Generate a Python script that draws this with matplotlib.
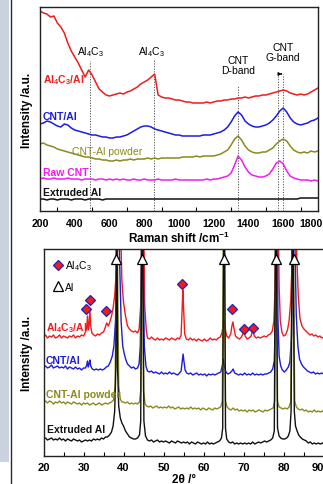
import matplotlib
matplotlib.use('Agg')
import matplotlib.pyplot as plt
from matplotlib.lines import Line2D
from matplotlib.patches import Rectangle
from matplotlib.ticker import MultipleLocator
from matplotlib.transforms import ScaledTranslation
import numpy as np

plt.rcParams['font.family'] = ['Liberation Sans', 'DejaVu Sans']
plt.rcParams['mathtext.fontset'] = 'custom'
plt.rcParams['mathtext.rm'] = 'Liberation Sans'
plt.rcParams['mathtext.bf'] = 'Liberation Sans:bold'
plt.rcParams['mathtext.it'] = 'Liberation Sans:italic'

# ---------------- Raman data (a.u.) ----------------
raman_shift = [200, 220, 240, 260, 280, 300, 320, 340, 360, 380,
               400, 420, 440, 460, 480, 500, 520, 540, 560, 580,
               600, 620, 640, 660, 680, 700, 720, 740, 760, 780,
               800, 820, 840, 860, 880, 900, 920, 940, 960, 980,
               1000, 1020, 1040, 1060, 1080, 1100, 1120, 1140, 1160, 1180,
               1200, 1220, 1240, 1260, 1280, 1300, 1320, 1340, 1360, 1380,
               1400, 1420, 1440, 1460, 1480, 1500, 1520, 1540, 1560, 1580,
               1600, 1620, 1640, 1660, 1680, 1700, 1720, 1740, 1760, 1780,
               1800]
raman_al4c3_al = [200, 198, 197, 194, 195, 188, 184, 178, 168, 160,
                  154, 148, 141, 134, 141, 136, 129, 122, 119, 116,
                  115, 116, 117, 118, 117, 119, 120, 122, 124, 127,
                  129, 131, 134, 137, 116, 114, 113, 113, 112, 111,
                  111, 110, 109, 109, 108, 108, 108, 108, 109, 108,
                  109, 110, 110, 111, 111, 112, 112, 113, 113, 114,
                  113, 114, 115, 115, 116, 116, 117, 118, 119, 120,
                  121, 120, 118, 117, 116, 117, 116, 117, 119, 121,
                  123]
raman_cnt_al = [87, 88, 90, 89, 87, 85, 84, 87, 86, 83,
                81, 80, 79, 78, 77, 76, 76, 75, 74, 74,
                73, 73, 74, 74, 75, 76, 78, 80, 82, 84,
                85, 85, 84, 82, 81, 80, 79, 78, 77, 76,
                76, 75, 75, 75, 75, 75, 75, 76, 76, 76,
                77, 78, 79, 81, 84, 89, 95, 99, 96, 90,
                87, 85, 84, 84, 85, 86, 88, 91, 95, 100,
                103, 99, 93, 89, 87, 86, 87, 88, 90, 91,
                93]
raman_cnt_al_powder = [67, 68, 66, 65, 64, 62, 61, 60, 59, 58,
                       57, 56, 55, 54, 54, 53, 52, 52, 51, 51,
                       50, 50, 51, 50, 51, 51, 52, 51, 52, 52,
                       52, 53, 52, 53, 52, 53, 53, 53, 53, 53,
                       53, 54, 54, 54, 54, 55, 54, 55, 55, 55,
                       55, 56, 57, 59, 61, 66, 72, 75, 71, 65,
                       61, 59, 58, 58, 59, 59, 61, 63, 67, 70,
                       72, 70, 65, 61, 59, 58, 59, 58, 60, 59,
                       60]
raman_raw_cnt = [32, 33, 32, 32, 33, 32, 32, 32, 33, 32,
                 32, 32, 31, 32, 32, 32, 31, 32, 32, 31,
                 32, 31, 32, 31, 32, 31, 31, 32, 31, 31,
                 32, 31, 31, 31, 32, 31, 31, 31, 31, 32,
                 31, 31, 31, 31, 31, 31, 31, 31, 32, 31,
                 32, 32, 33, 34, 35, 38, 46, 55, 51, 44,
                 39, 36, 35, 34, 34, 35, 37, 42, 48, 50,
                 47, 40, 35, 33, 32, 31, 31, 31, 30, 31,
                 30]
raman_extruded_al = [12, 12, 11, 12, 12, 11, 12, 12, 12, 11,
                     12, 12, 12, 11, 12, 12, 12, 12, 11, 12,
                     12, 12, 12, 12, 12, 12, 12, 12, 12, 12,
                     12, 12, 12, 12, 12, 12, 12, 12, 12, 12,
                     12, 12, 12, 12, 12, 12, 12, 12, 12, 12,
                     12, 12, 12, 12, 12, 12, 12, 12, 12, 12,
                     12, 12, 12, 12, 12, 12, 12, 12, 12, 12,
                     12, 12, 12, 12, 12, 13, 13, 13, 13, 13,
                     13]
raman_names = ['Al$_\\mathbf{4}$C$_\\mathbf{3}$/Al', 'CNT/Al', 'CNT-Al powder', 'Raw CNT', 'Extruded Al']
raman_colors = ['#f01c1c', '#1c1ce0', '#8a8a1c', '#f01cf0', '#111111']
raman_label_y = [132, 95, 60, 39, 19]
raman_label_x = [217, 217, 384, 217, 217]
raman_marks = [488, 858, 1341, 1571, 1600]
raman_mark_top = [150, 152, 125, 137, 137]
raman_ticks = [200, 400, 600, 800, 1000, 1200, 1400, 1600, 1800]

# ---------------- XRD data (a.u.) ----------------
xrd_al4c3_al = [(20, 119), (20.5, 121), (21, 118), (21.5, 120), (22, 119), (22.5, 121), (23, 118), (23.5, 119),
                (24, 121), (24.5, 118), (25, 120), (25.5, 119), (26, 118), (26.5, 120), (27, 119), (27.5, 121),
                (28, 118), (28.5, 120), (29, 119), (29.5, 121), (30, 120), (30.5, 124), (30.8, 128), (31.0, 140),
                (31.2, 126), (31.4, 130), (31.6, 146), (31.8, 130), (32.1, 123), (32.6, 121), (33, 120), (33.5, 122),
                (34, 121), (34.5, 123), (35, 124), (35.4, 128), (35.8, 133), (36.2, 130), (36.6, 134), (37, 140),
                (37.4, 148), (37.8, 160), (38.2, 185), (38.6, 240), (38.9, 330), (39.2, 240), (39.6, 175), (40, 154),
                (40.5, 140), (41, 130), (41.5, 127), (42, 125), (42.5, 124), (43, 125), (43.5, 123), (43.9, 127),
                (44.3, 150), (44.6, 260), (44.8, 330), (45.0, 260), (45.3, 150), (45.7, 126), (46, 118), (46.5, 117),
                (47, 119), (47.5, 117), (48, 116), (48.5, 118), (49, 116), (49.5, 117), (50, 116), (50.5, 118),
                (51, 117), (51.5, 116), (52, 118), (52.5, 117), (53, 116), (53.5, 118), (54, 117), (54.4, 121),
                (54.7, 150), (54.85, 166), (55.0, 150), (55.3, 122), (55.7, 117), (56.2, 116), (56.7, 118), (57.2, 116),
                (57.7, 117), (58.2, 115), (58.7, 117), (59.2, 116), (59.7, 115), (60.2, 117), (60.7, 115), (61.2, 116),
                (61.7, 118), (62.2, 116), (62.7, 117), (63.2, 116), (63.7, 118), (64.2, 119), (64.6, 123), (64.9, 130),
                (65.15, 136), (65.4, 128), (65.8, 120), (66.3, 118), (66.8, 122), (67.1, 130), (67.35, 134), (67.6, 128),
                (68, 120), (68.5, 118), (69, 117), (69.5, 119), (69.9, 123), (70.1, 126), (70.4, 120), (70.9, 117),
                (71.4, 118), (71.9, 120), (72.2, 124), (72.4, 126), (72.7, 120), (73.2, 118), (73.7, 119), (74.2, 118),
                (74.7, 119), (75.2, 120), (75.7, 119), (76.2, 121), (76.7, 122), (77.2, 125), (77.6, 135), (77.9, 170),
                (78.2, 260), (78.4, 330), (78.6, 260), (78.9, 170), (79.2, 135), (79.6, 124), (80, 120), (80.5, 121),
                (81, 126), (81.4, 135), (81.8, 155), (82.2, 200), (82.6, 280), (82.8, 330), (83.0, 280), (83.3, 200),
                (83.7, 160), (84.1, 138), (84.6, 130), (85.1, 127), (85.6, 125), (86.1, 123), (86.6, 121), (87.1, 122),
                (87.6, 120), (88.1, 121), (88.6, 119), (89.1, 120), (89.6, 118), (90, 119)]
xrd_cnt_al = [(20, 89), (20.5, 90), (21, 88), (21.5, 89), (22, 91), (22.5, 88), (23, 89), (23.5, 90), (24, 88),
              (24.5, 89), (25, 88), (25.5, 90), (26, 87), (26.5, 89), (27, 88), (27.5, 87), (28, 89), (28.5, 87),
              (29, 88), (29.5, 86), (30, 88), (30.5, 88), (30.8, 91), (31.0, 95), (31.2, 89), (31.4, 92), (31.6, 96),
              (31.8, 90), (32.2, 87), (32.7, 86), (33.2, 87), (33.7, 86), (34.2, 87), (34.7, 86), (35.2, 87),
              (35.7, 89), (36.2, 90), (36.7, 94), (37.2, 100), (37.6, 110), (38.0, 135), (38.4, 200), (38.7, 330),
              (39.0, 200), (39.4, 135), (39.8, 110), (40.2, 102), (40.6, 96), (41, 92), (41.5, 90), (42, 88),
              (42.5, 89), (43, 87), (43.5, 88), (43.9, 92), (44.2, 110), (44.5, 200), (44.7, 330), (44.9, 200),
              (45.2, 110), (45.6, 90), (46, 85), (46.5, 84), (47, 85), (47.5, 83), (48, 84), (48.5, 83), (49, 82),
              (49.5, 84), (50, 82), (50.5, 83), (51, 82), (51.5, 84), (52, 82), (52.5, 83), (53, 82), (53.5, 81),
              (54, 83), (54.4, 85), (54.7, 95), (54.9, 102), (55.1, 95), (55.4, 86), (55.8, 83), (56.3, 82),
              (56.8, 83), (57.3, 81), (57.8, 82), (58.3, 83), (58.8, 81), (59.3, 82), (59.8, 81), (60.3, 82),
              (60.8, 80), (61.3, 82), (61.8, 81), (62.3, 82), (62.8, 81), (63.3, 82), (63.8, 83), (64.3, 84),
              (64.7, 90), (64.95, 97), (65.2, 90), (65.6, 84), (66.1, 82), (66.6, 83), (67.1, 85), (67.4, 87),
              (67.8, 83), (68.3, 82), (68.8, 81), (69.3, 82), (69.8, 81), (70.3, 83), (70.8, 81), (71.3, 82),
              (71.8, 81), (72.3, 83), (72.8, 81), (73.3, 82), (73.8, 81), (74.3, 82), (74.8, 81), (75.3, 82),
              (75.8, 82), (76.3, 83), (76.8, 84), (77.3, 87), (77.7, 95), (78.0, 140), (78.3, 330), (78.6, 140),
              (78.9, 100), (79.3, 90), (79.7, 86), (80.2, 84), (80.7, 86), (81.2, 89), (81.6, 94), (82.0, 120),
              (82.3, 200), (82.6, 330), (82.9, 200), (83.2, 140), (83.6, 110), (84.0, 97), (84.5, 92), (85, 89),
              (85.5, 87), (86, 85), (86.5, 84), (87, 83), (87.5, 84), (88, 82), (88.5, 83), (89, 82), (89.5, 83),
              (90, 82)]
xrd_cnt_al_powder = [(20, 54), (20.5, 55), (21, 53), (21.5, 55), (22, 54), (22.5, 52), (23, 54), (23.5, 53),
                     (24, 55), (24.5, 53), (25, 54), (25.5, 52), (26, 54), (26.5, 53), (27, 52), (27.5, 54),
                     (28, 53), (28.5, 52), (29, 53), (29.5, 51), (30, 53), (30.5, 52), (31, 53), (31.5, 51),
                     (32, 52), (32.5, 53), (33, 51), (33.5, 52), (34, 53), (34.5, 51), (35, 52), (35.5, 53),
                     (36, 52), (36.5, 53), (37, 54), (37.5, 56), (37.9, 70), (38.2, 200), (38.35, 330), (38.5, 200),
                     (38.8, 70), (39.2, 57), (39.6, 54), (40, 54), (40.5, 53), (41, 54), (41.5, 52), (42, 53),
                     (42.5, 52), (43, 53), (43.5, 52), (44, 54), (44.3, 65), (44.5, 200), (44.65, 330), (44.8, 200),
                     (45.0, 65), (45.4, 52), (45.8, 50), (46.3, 49), (46.8, 50), (47.3, 48), (47.8, 49), (48.3, 50),
                     (48.8, 48), (49.3, 49), (49.8, 48), (50.3, 49), (50.8, 48), (51.3, 50), (51.8, 48), (52.3, 49),
                     (52.8, 47), (53.3, 48), (53.8, 49), (54.3, 47), (54.8, 48), (55.3, 47), (55.8, 48), (56.3, 47),
                     (56.8, 49), (57.3, 47), (57.8, 48), (58.3, 47), (58.8, 48), (59.3, 46), (59.8, 48), (60.3, 47),
                     (60.8, 46), (61.3, 48), (61.8, 47), (62.3, 46), (62.8, 48), (63.3, 47), (63.8, 48), (64.3, 49),
                     (64.7, 55), (64.95, 200), (65.1, 330), (65.25, 200), (65.5, 55), (65.9, 49), (66.4, 47),
                     (66.9, 46), (67.4, 48), (67.9, 46), (68.4, 47), (68.9, 45), (69.4, 46), (69.9, 45), (70.4, 46),
                     (70.9, 44), (71.4, 46), (71.9, 45), (72.4, 46), (72.9, 44), (73.4, 45), (73.9, 46), (74.4, 45),
                     (74.9, 44), (75.4, 46), (75.9, 45), (76.4, 46), (76.9, 47), (77.4, 48), (77.8, 55), (78.0, 200),
                     (78.15, 330), (78.3, 200), (78.5, 55), (78.9, 49), (79.4, 48), (79.9, 47), (80.4, 48), (80.9, 47),
                     (81.4, 49), (81.8, 54), (82.1, 200), (82.3, 330), (82.5, 200), (82.8, 55), (83.2, 49), (83.7, 47),
                     (84.2, 46), (84.7, 47), (85.2, 45), (85.7, 46), (86.2, 44), (86.7, 45), (87.2, 44), (87.7, 46),
                     (88.2, 44), (88.7, 45), (89.2, 44), (89.7, 45), (90, 44)]
xrd_extruded_al = [(20, 17), (20.5, 18), (21, 16), (21.5, 17), (22, 18), (22.5, 16), (23, 17), (23.5, 16), (24, 18),
                   (24.5, 16), (25, 17), (25.5, 15), (26, 17), (26.5, 16), (27, 15), (27.5, 17), (28, 16), (28.5, 15),
                   (29, 16), (29.5, 14), (30, 15), (30.5, 16), (31, 15), (31.5, 16), (32, 15), (32.5, 17), (33, 16),
                   (33.5, 17), (34, 16), (34.5, 18), (35, 17), (35.5, 19), (36, 19), (36.5, 21), (37, 24), (37.4, 30),
                   (37.8, 45), (38.1, 90), (38.3, 330), (38.5, 90), (38.8, 50), (39.2, 38), (39.6, 33), (40, 30),
                   (40.5, 25), (41, 22), (41.5, 19), (42, 18), (42.5, 17), (43, 17), (43.5, 18), (44, 21), (44.3, 35),
                   (44.55, 200), (44.7, 330), (44.85, 200), (45.1, 35), (45.5, 20), (46, 16), (46.5, 15), (47, 16),
                   (47.5, 14), (48, 15), (48.5, 16), (49, 14), (49.5, 15), (50, 14), (50.5, 15), (51, 14), (51.5, 13),
                   (52, 15), (52.5, 14), (53, 13), (53.5, 15), (54, 14), (54.5, 13), (55, 14), (55.5, 13), (56, 14),
                   (56.5, 12), (57, 14), (57.5, 13), (58, 12), (58.5, 14), (59, 13), (59.5, 12), (60, 13), (60.5, 12),
                   (61, 14), (61.5, 12), (62, 13), (62.5, 12), (63, 13), (63.5, 14), (64, 15), (64.5, 18), (64.8, 28),
                   (65.0, 200), (65.15, 330), (65.3, 200), (65.5, 28), (65.8, 17), (66.3, 14), (66.8, 13), (67.3, 14),
                   (67.8, 12), (68.3, 13), (68.8, 12), (69.3, 13), (69.8, 12), (70.3, 13), (70.8, 12), (71.3, 13),
                   (71.8, 12), (72.3, 14), (72.8, 12), (73.3, 13), (73.8, 14), (74.3, 13), (74.8, 14), (75.3, 15),
                   (75.8, 14), (76.3, 15), (76.8, 16), (77.3, 18), (77.7, 25), (77.95, 200), (78.1, 330), (78.25, 200),
                   (78.5, 28), (78.9, 20), (79.3, 18), (79.8, 17), (80.3, 17), (80.8, 18), (81.2, 20), (81.6, 25),
                   (81.9, 45), (82.15, 200), (82.3, 330), (82.45, 200), (82.7, 45), (83.0, 30), (83.4, 25), (83.8, 21),
                   (84.2, 19), (84.7, 17), (85.2, 16), (85.7, 15), (86.2, 13), (86.7, 14), (87.2, 12), (87.7, 13),
                   (88.2, 12), (88.7, 13), (89.2, 12), (89.7, 13), (90, 12)]
xrd_names = ['Al$_\\mathbf{4}$C$_\\mathbf{3}$/Al', 'CNT/Al', 'CNT-Al powder', 'Extruded Al']
xrd_colors = ['#f01c1c', '#1c1ce0', '#8a8a1c', '#111111']
xrd_label_y = [129, 96, 62, 27]
xrd_label_x = [20.6, 20.6, 20.6, 20.9]
xrd_ticks = [20, 30, 40, 50, 60, 70, 80, 90]

al4c3_2theta = [30.6, 31.5, 35.5, 54.7, 67.2, 70.0, 72.4]
al4c3_height = [147, 156, 145, 172, 147, 127, 128]
al_2theta = [38.0, 44.5, 65.0, 78.2, 82.5]
al_height = [197, 197, 197, 197, 197]

# ---------------- figure ----------------
W, H = 323, 485
fig = plt.figure(figsize=(W / 100, H / 100), dpi=100)

# left decorative strip
fig.patches.append(Rectangle((0, (H - 463) / H), 9 / W, 463 / H, transform=fig.transFigure,
                             facecolor='#c9d2de', edgecolor='none', zorder=0))
fig.lines.append(Line2D([10.5 / W, 10.5 / W], [0, 1], transform=fig.transFigure, color='#2a2a2a', lw=1.0))

ax1 = fig.add_axes([40 / W, (H - 212) / H, 278 / W, 204 / H])
ax2 = fig.add_axes([43.5 / W, (H - 457) / H, 280 / W, 207 / H])

series = [raman_al4c3_al, raman_cnt_al, raman_cnt_al_powder, raman_raw_cnt, raman_extruded_al]
for ys, c in zip(series, raman_colors):
    ax1.plot(raman_shift, ys, color=c, lw=1.1)
for name, c, lx, ly in zip(raman_names, raman_colors, raman_label_x, raman_label_y):
    ax1.text(lx, ly, name, color=c, fontsize=7.5,
             fontweight='normal' if name == 'CNT-Al powder' else 'bold', va='center', ha='left')
for mx, mt in zip(raman_marks, raman_mark_top):
    ax1.plot([mx, mx], [0, mt], color='#555555', ls=(0, (1.2, 1.5)), lw=0.7, zorder=0)
ax1.text(488, 160, 'Al$_4$C$_3$', fontsize=7.5, ha='center', va='center')
ax1.text(843, 160, 'Al$_4$C$_3$', fontsize=7.5, ha='center', va='center')
ax1.text(1341, 146, 'CNT\nD-band', fontsize=7.5, ha='center', va='center', linespacing=1.1)
ax1.text(1597, 159, 'CNT\nG-band', fontsize=7.5, ha='center', va='center', linespacing=1.1)
ax1.annotate('', xy=(1608, 137), xytext=(1573, 137),
             arrowprops=dict(arrowstyle='-|>', color='black', lw=0.7, mutation_scale=5))
ax1.set_xlim(200, 1800)
ax1.set_ylim(0, 204)
ax1.set_yticks([])
ax1.set_xticks(raman_ticks)
ax1.xaxis.set_minor_locator(MultipleLocator(100))
ax1.tick_params(axis='x', which='major', direction='in', length=0, pad=5)
ax1.tick_params(axis='x', which='minor', direction='in', length=3, width=0.8)
ax1.set_xticklabels([str(t) for t in raman_ticks], fontweight='bold', fontsize=7.6)
ax1.set_xlabel('Raman shift /cm$^{\\mathbf{-1}}$', fontsize=8.5, fontweight='bold', labelpad=1)

xrd_series = [xrd_al4c3_al, xrd_cnt_al, xrd_cnt_al_powder, xrd_extruded_al]
for pairs, c in zip(xrd_series, xrd_colors):
    arr = np.array(pairs)
    ax2.plot(arr[:, 0], arr[:, 1], color=c, lw=1.0)
for name, c, lx, ly in zip(xrd_names, xrd_colors, xrd_label_x, xrd_label_y):
    ax2.text(lx, ly, name, color=c, fontsize=7.5, fontweight='bold', va='center', ha='left', zorder=6)
ax2.plot(al4c3_2theta, al4c3_height, 'D', mfc='#f01c1c', mec='#2020c0', ms=5.5, mew=0.9, ls='none', zorder=5)
ax2.plot(al_2theta, al_height, '^', mfc='white', mec='black', ms=7.5, mew=0.9, ls='none', zorder=5)
handles = [Line2D([], [], marker='D', ls='none', mfc='#f01c1c', mec='#2020c0', ms=5.5, mew=0.9),
           Line2D([], [], marker='^', ls='none', mfc='white', mec='black', ms=7.5, mew=0.9)]
ax2.legend(handles, ['Al$_4$C$_3$', 'Al'], loc='upper left', frameon=False, fontsize=7.5,
           handletextpad=0.2, labelspacing=0.9, borderaxespad=0.5, handlelength=1.0)
ax2.set_xlim(20, 90)
ax2.set_ylim(0, 207)
ax2.set_yticks([])
ax2.set_xticks(xrd_ticks)
ax2.xaxis.set_minor_locator(MultipleLocator(5))
ax2.tick_params(axis='x', which='major', direction='in', length=3, width=0.8, pad=4)
ax2.tick_params(axis='x', which='minor', direction='in', length=3, width=0.8)
ax2.set_xticklabels([str(t) for t in xrd_ticks], fontweight='bold', fontsize=8)
ax2.set_xlabel('2θ /°', fontsize=8.5, fontweight='bold', labelpad=1)

# keep the right-most tick labels inside the canvas
for ax, dx in ((ax1, 5), (ax2, 0)):
    last = ax.get_xticklabels()[-1]
    last.set_ha('right')
    last.set_transform(last.get_transform() + ScaledTranslation(dx / 100, 0, fig.dpi_scale_trans))

for ax in (ax1, ax2):
    for s in ax.spines.values():
        s.set_linewidth(1.0)
        s.set_color('#222222')

fig.text(27 / W, 1 - 110 / H, 'Intensity /a.u.', rotation=90, ha='center', va='center',
         fontsize=8.5, fontweight='bold')
fig.text(27 / W, 1 - 353 / H, 'Intensity /a.u.', rotation=90, ha='center', va='center',
         fontsize=8.5, fontweight='bold')

fig.savefig('out.png', dpi=100)
